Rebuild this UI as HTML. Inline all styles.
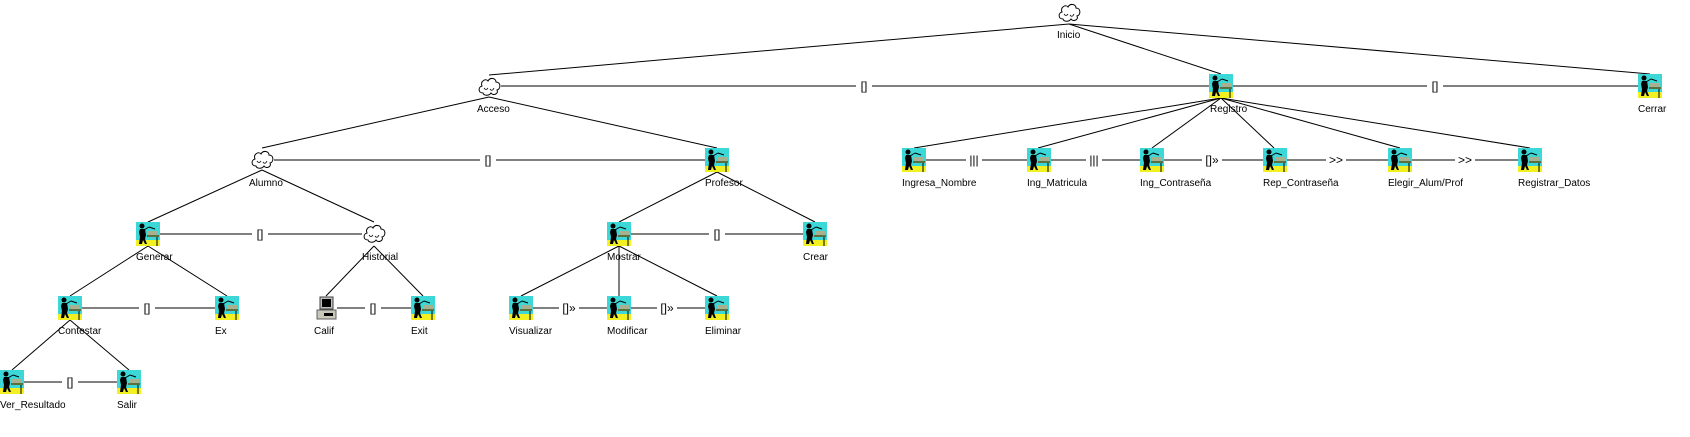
<!DOCTYPE html>
<html><head><meta charset="utf-8"><style>
html,body{margin:0;padding:0;background:#fff;}
svg{display:block;}
.l{font-family:"Liberation Sans",Arial,sans-serif;font-size:10px;fill:#000;}
.c{font-family:"Liberation Sans",Arial,sans-serif;font-size:12px;fill:#000;text-anchor:middle;}
line{stroke:#000;stroke-width:1;}
</style></head><body>
<svg width="1690" height="437" viewBox="0 0 1690 437" xmlns="http://www.w3.org/2000/svg">
<defs>
<symbol id="p" viewBox="0 0 24 24">
<rect x="0" y="0" width="24" height="24" fill="#3cd8d8"/>
<rect x="0" y="18" width="24" height="6" fill="#f2f020"/>
<rect x="12" y="9" width="10" height="5" fill="#a8b090"/>
<rect x="11" y="13" width="12" height="2" fill="#5a7040"/>
<line x1="21" y1="15" x2="21" y2="24" style="stroke:#000"/>
<circle cx="6" cy="4" r="2.5" fill="#000"/>
<path d="M4 7 L9 7 L10 13 L9 17 L11 22 L9 22 L7 18 L6 22 L3 22 L4 15 L3 10 Z" fill="#000"/>
<line x1="8" y1="8" x2="13" y2="5" style="stroke:#000"/>
<line x1="13" y1="5" x2="19" y2="7" style="stroke:#000"/>
</symbol>
<symbol id="k" viewBox="0 0 24 24">
<path d="M6 18 C1 18 1 12 5 11 C3 6 9 3 11 6 C13 2 19 3 19 7 C24 7 24 14 20 15 C22 19 16 21 14 18 C12 21 7 21 6 18 Z" fill="#fff" stroke="#000" stroke-width="1"/>
<path d="M7 13 Q9 16 11 13 M13 14 Q15 17 17 13" fill="none" stroke="#000" stroke-width="0.8"/>
</symbol>
<symbol id="m" viewBox="0 0 24 24">
<rect x="6" y="1" width="13" height="12" fill="#c0c0c0" stroke="#404040"/>
<rect x="8" y="3" width="9" height="8" fill="#000"/>
<rect x="3" y="14" width="19" height="9" fill="#c8c8b8" stroke="#606060"/>
<rect x="10" y="17" width="9" height="3" fill="#000"/>
</symbol>
</defs>

<!-- tree edges -->
<line x1="1069" y1="24" x2="489" y2="75"/>
<line x1="1069" y1="24" x2="1221" y2="74"/>
<line x1="1069" y1="24" x2="1650" y2="74"/>
<line x1="489" y1="97" x2="262" y2="148"/>
<line x1="489" y1="97" x2="717" y2="148"/>
<line x1="1221" y1="98" x2="914" y2="148"/>
<line x1="1221" y1="98" x2="1038" y2="148"/>
<line x1="1221" y1="98" x2="1152" y2="148"/>
<line x1="1221" y1="98" x2="1274" y2="148"/>
<line x1="1221" y1="98" x2="1400" y2="148"/>
<line x1="1221" y1="98" x2="1530" y2="148"/>
<line x1="262" y1="170" x2="148" y2="222"/>
<line x1="262" y1="170" x2="374" y2="222"/>
<line x1="717" y1="172" x2="619" y2="222"/>
<line x1="717" y1="172" x2="815" y2="222"/>
<line x1="148" y1="246" x2="70" y2="296"/>
<line x1="148" y1="246" x2="227" y2="296"/>
<line x1="374" y1="246" x2="326" y2="296"/>
<line x1="374" y1="246" x2="423" y2="296"/>
<line x1="619" y1="246" x2="521" y2="296"/>
<line x1="619" y1="246" x2="619" y2="296"/>
<line x1="619" y1="246" x2="717" y2="296"/>
<line x1="70" y1="320" x2="12" y2="370"/>
<line x1="70" y1="320" x2="129" y2="370"/>

<!-- horizontal connectors -->
<line x1="501" y1="86" x2="1209" y2="86"/>
<line x1="1233" y1="86" x2="1638" y2="86"/>
<line x1="274" y1="160" x2="705" y2="160"/>
<line x1="925" y1="160" x2="1027" y2="160"/>
<line x1="1050" y1="160" x2="1140" y2="160"/>
<line x1="1164" y1="160" x2="1263" y2="160"/>
<line x1="1286" y1="160" x2="1388" y2="160"/>
<line x1="1412" y1="160" x2="1518" y2="160"/>
<line x1="160" y1="234" x2="362" y2="234"/>
<line x1="631" y1="234" x2="803" y2="234"/>
<line x1="82" y1="308" x2="215" y2="308"/>
<line x1="337" y1="308" x2="411" y2="308"/>
<line x1="533" y1="308" x2="607" y2="308"/>
<line x1="631" y1="308" x2="705" y2="308"/>
<line x1="24" y1="382" x2="117" y2="382"/>

<!-- connector labels -->
<g>
<rect x="856" y="79" width="16" height="14" fill="#fff"/><text class="c" x="864" y="90">[]</text>
<rect x="1427" y="79" width="16" height="14" fill="#fff"/><text class="c" x="1435" y="90">[]</text>
<rect x="480" y="153" width="16" height="14" fill="#fff"/><text class="c" x="488" y="164">[]</text>
<rect x="966" y="153" width="16" height="14" fill="#fff"/><text class="c" x="974" y="164">|||</text>
<rect x="1086" y="153" width="16" height="14" fill="#fff"/><text class="c" x="1094" y="164">|||</text>
<rect x="1202" y="153" width="20" height="14" fill="#fff"/><text class="c" x="1212" y="164">[]»</text>
<rect x="1326" y="153" width="20" height="14" fill="#fff"/><text class="c" x="1336" y="164">&gt;&gt;</text>
<rect x="1455" y="153" width="20" height="14" fill="#fff"/><text class="c" x="1465" y="164">&gt;&gt;</text>
<rect x="252" y="227" width="16" height="14" fill="#fff"/><text class="c" x="260" y="238">[]</text>
<rect x="709" y="227" width="16" height="14" fill="#fff"/><text class="c" x="717" y="238">[]</text>
<rect x="139" y="301" width="16" height="14" fill="#fff"/><text class="c" x="147" y="312">[]</text>
<rect x="365" y="301" width="16" height="14" fill="#fff"/><text class="c" x="373" y="312">[]</text>
<rect x="559" y="301" width="20" height="14" fill="#fff"/><text class="c" x="569" y="312">[]»</text>
<rect x="657" y="301" width="20" height="14" fill="#fff"/><text class="c" x="667" y="312">[]»</text>
<rect x="62" y="375" width="16" height="14" fill="#fff"/><text class="c" x="70" y="386">[]</text>
</g>

<!-- nodes -->
<use href="#k" x="1057" y="1" width="24" height="24"/>
<use href="#k" x="477" y="75" width="24" height="24"/>
<use href="#p" x="1209" y="74" width="24" height="24"/>
<use href="#p" x="1638" y="74" width="24" height="24"/>
<use href="#k" x="250" y="148" width="24" height="24"/>
<use href="#p" x="705" y="148" width="24" height="24"/>
<use href="#p" x="902" y="148" width="24" height="24"/>
<use href="#p" x="1027" y="148" width="24" height="24"/>
<use href="#p" x="1140" y="148" width="24" height="24"/>
<use href="#p" x="1263" y="148" width="24" height="24"/>
<use href="#p" x="1388" y="148" width="24" height="24"/>
<use href="#p" x="1518" y="148" width="24" height="24"/>
<use href="#p" x="136" y="222" width="24" height="24"/>
<use href="#k" x="362" y="222" width="24" height="24"/>
<use href="#p" x="607" y="222" width="24" height="24"/>
<use href="#p" x="803" y="222" width="24" height="24"/>
<use href="#p" x="58" y="296" width="24" height="24"/>
<use href="#p" x="215" y="296" width="24" height="24"/>
<use href="#m" x="314" y="296" width="24" height="24"/>
<use href="#p" x="411" y="296" width="24" height="24"/>
<use href="#p" x="509" y="296" width="24" height="24"/>
<use href="#p" x="607" y="296" width="24" height="24"/>
<use href="#p" x="705" y="296" width="24" height="24"/>
<use href="#p" x="0" y="370" width="24" height="24"/>
<use href="#p" x="117" y="370" width="24" height="24"/>

<!-- node labels -->
<text class="l" x="1057" y="38">Inicio</text>
<text class="l" x="477" y="112">Acceso</text>
<text class="l" x="1210" y="112">Registro</text>
<text class="l" x="1638" y="112">Cerrar</text>
<text class="l" x="249" y="186">Alumno</text>
<text class="l" x="705" y="186">Profesor</text>
<text class="l" x="902" y="186">Ingresa_Nombre</text>
<text class="l" x="1027" y="186">Ing_Matricula</text>
<text class="l" x="1140" y="186">Ing_Contraseña</text>
<text class="l" x="1263" y="186">Rep_Contraseña</text>
<text class="l" x="1388" y="186">Elegir_Alum/Prof</text>
<text class="l" x="1518" y="186">Registrar_Datos</text>
<text class="l" x="136" y="260">Generar</text>
<text class="l" x="362" y="260">Historial</text>
<text class="l" x="607" y="260">Mostrar</text>
<text class="l" x="803" y="260">Crear</text>
<text class="l" x="58" y="334">Contestar</text>
<text class="l" x="215" y="334">Ex</text>
<text class="l" x="314" y="334">Calif</text>
<text class="l" x="411" y="334">Exit</text>
<text class="l" x="509" y="334">Visualizar</text>
<text class="l" x="607" y="334">Modificar</text>
<text class="l" x="705" y="334">Eliminar</text>
<text class="l" x="0" y="408">Ver_Resultado</text>
<text class="l" x="117" y="408">Salir</text>
</svg>
</body></html>
